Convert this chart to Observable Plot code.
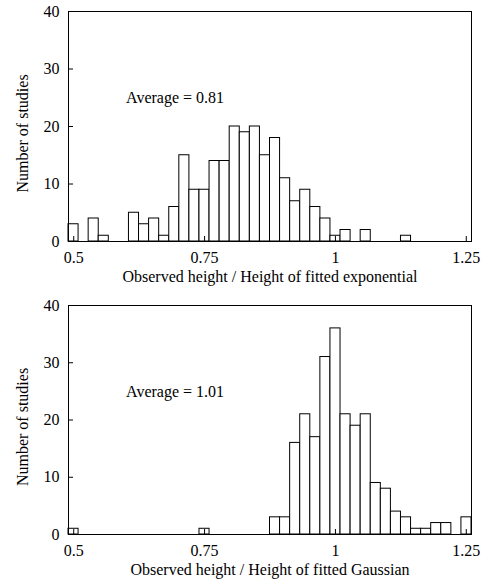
<!DOCTYPE html>
<html><head><meta charset="utf-8">
<script src="https://cdn.jsdelivr.net/npm/d3@7"></script>
<script src="https://cdn.jsdelivr.net/npm/@observablehq/plot@0.6"></script>
<style>html,body{margin:0;padding:0;background:#fff} svg{display:block}</style>
</head><body><div id="chart"></div>
<script>
const binStart = 0.49;
const binWidth = 0.01925;
const countsExponential = [3,0,4,1,0,0,5,3,4,1,6,15,9,9,14,14,20,19,20,15,18,11,7,9,6,4,1,2,0,2,0,0,0,1,0,0,0,0,0,0];
const countsGaussian = [1,0,0,0,0,0,0,0,0,0,0,0,0,1,0,0,0,0,0,0,3,3,16,21,17,31,36,21,19,21,9,8,4,3,1,1,2,2,0,3];
const xTicks = [0.5, 0.75, 1, 1.25];
const xTickLabels = ["0.5", "0.75", "1", "1.25"];
const yTicks = [0, 10, 20, 30, 40];
const yLabel = "Number of studies";
const xLabelTop = "Observed height / Height of fitted exponential";
const xLabelBottom = "Observed height / Height of fitted Gaussian";
const annotTop = "Average = 0.81";
const annotBottom = "Average = 1.01";
const annotX = 0.6, annotY = 25;

const font = "'Liberation Serif', 'Times New Roman', serif";

function panel(counts, xLabel, annot, height, marginTop) {
  const bins = counts.map((c, i) => ({x1: binStart + i * binWidth, x2: binStart + (i + 1) * binWidth, count: c}));
  return Plot.plot({
    width: 484, height, marginTop, marginBottom: 49, marginLeft: 68, marginRight: 13,
    style: {fontFamily: font, fontSize: "16px", color: "black", background: "white"},
    x: {domain: [binStart, binStart + counts.length * binWidth]},
    y: {domain: [0, 40]},
    marks: [
      Plot.rectY(bins, {x1: "x1", x2: "x2", y: "count", fill: "white", stroke: "black", strokeWidth: 1}),
      Plot.frame({stroke: "black"}),
      Plot.axisX(xTicks, {tickSize: -5, tickPadding: 15, fontSize: 16, tickFormat: d => xTickLabels[xTicks.indexOf(d)], label: null}),
      Plot.axisY(yTicks, {tickSize: -5, tickPadding: 14, fontSize: 16, label: null}),
      Plot.text([annot], {x: annotX, y: annotY, text: d => d, textAnchor: "start", fontSize: 16}),
      Plot.text([xLabel], {frameAnchor: "bottom", text: d => d, textAnchor: "middle", lineAnchor: "top", dy: 29, fontSize: 16}),
      Plot.text([yLabel], {frameAnchor: "left", text: d => d, textAnchor: "middle", lineAnchor: "middle", rotate: -90, dx: -46, dy: 7, fontSize: 16})
    ]
  });
}

const el = document.getElementById("chart");
el.append(panel(countsExponential, xLabelTop, annotTop, 290, 11));
el.append(panel(countsGaussian, xLabelBottom, annotBottom, 293, 15));
</script>
</body></html>
